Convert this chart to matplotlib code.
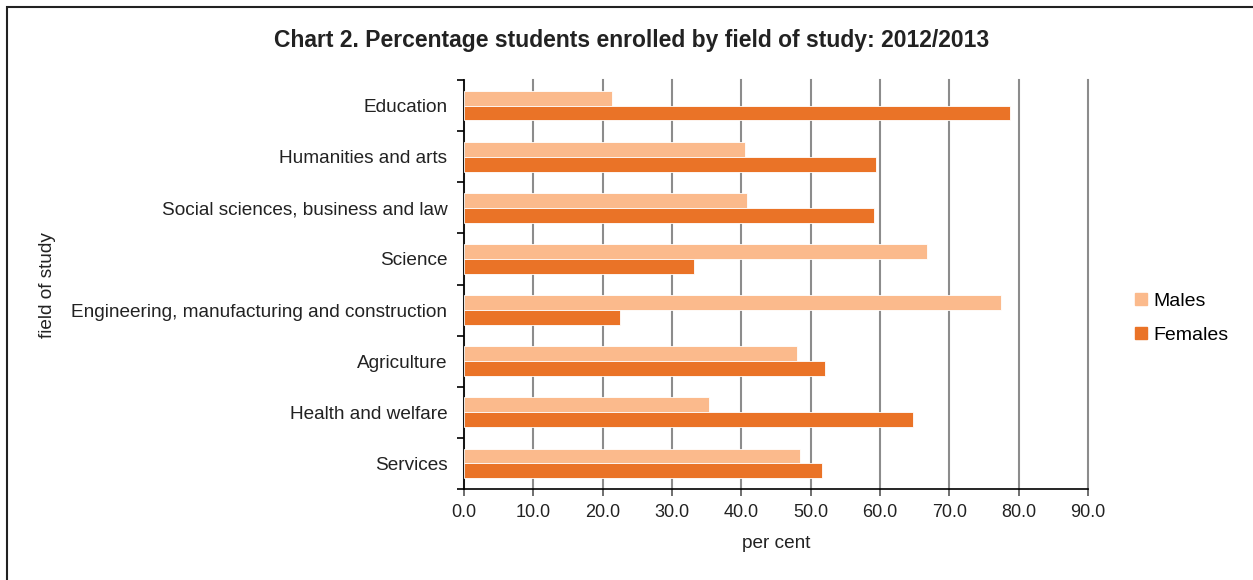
import matplotlib
matplotlib.use("Agg")
import matplotlib.pyplot as plt
from matplotlib.lines import Line2D
from matplotlib.patches import Rectangle
import numpy as np

plt.rcParams['font.family'] = ['Liberation Sans', 'DejaVu Sans']

fields = ["Education", "Humanities and arts", "Social sciences, business and law",
          "Science", "Engineering, manufacturing and construction", "Agriculture",
          "Health and welfare", "Services"]
males = [21.3, 40.6, 40.8, 66.8, 77.5, 48.0, 35.3, 48.4]
females = [78.7, 59.4, 59.2, 33.2, 22.5, 52.0, 64.7, 51.6]
xticks = [0, 10, 20, 30, 40, 50, 60, 70, 80, 90]

male_col = '#FBBA8C'
female_col = '#EA7327'
txt = '#222222'

fig = plt.figure(figsize=(12.53, 5.8), dpi=100)
ax = fig.add_axes([464 / 1253, 1 - 489 / 580, (1088 - 464) / 1253, (489 - 80) / 580])

y = np.arange(len(fields))
h = 0.29
ax.barh(y - h / 2, males, height=h, color=male_col, edgecolor='white', linewidth=0.6, zorder=3)
ax.barh(y + h / 2, females, height=h, color=female_col, edgecolor='white', linewidth=0.6, zorder=3)

ax.set_xlim(0, 90)
ax.set_ylim(len(fields) - 0.5, -0.5)
ax.set_xticks(xticks)
ax.set_xticklabels([f"{v:.1f}" for v in xticks], fontsize=13, color=txt)
ax.set_yticks(y)
ax.set_yticklabels(fields, fontsize=13.7, color=txt)
ax.set_yticks(np.arange(-0.5, len(fields)), minor=True)
ax.tick_params(axis='y', which='major', length=0, pad=12)
ax.tick_params(axis='y', which='minor', length=5, width=1.2, color='black')
ax.tick_params(axis='x', length=5, width=1.2, color='#555555', pad=6)

ax.grid(axis='x', color='#8c8c8c', linewidth=1.5, zorder=0)
for gl in ax.get_xgridlines():
    gl.set_clip_on(False)
for s in ['top', 'right']:
    ax.spines[s].set_visible(False)
ax.spines['left'].set_linewidth(1.2)
ax.spines['bottom'].set_linewidth(1.2)

ax.set_xlabel("per cent", fontsize=13.7, color=txt, labelpad=10)
fig.text(48 / 1253, 1 - 285 / 580, "field of study", rotation=90, fontsize=13.7,
         color=txt, ha='center', va='center')

fig.text(632 / 1253, 1 - 41 / 580, "Chart 2. Percentage students enrolled by field of study: 2012/2013",
         fontsize=16.5, fontweight='bold', color=txt, ha='center', va='center')

handles = [Line2D([], [], marker='s', linestyle='none', markersize=8, color=male_col),
           Line2D([], [], marker='s', linestyle='none', markersize=8, color=female_col)]
fig.legend(handles, ["Males", "Females"], loc='center left',
           bbox_to_anchor=(1131 / 1253, 1 - 318 / 580), frameon=False, fontsize=14,
           labelspacing=0.85, handletextpad=0.15, handlelength=1.0, borderpad=0, borderaxespad=0)

fig.patches.append(Rectangle((7 / 1253, -0.1), 1.2, 1.1 - 7 / 580, transform=fig.transFigure,
                             fill=False, edgecolor=txt, linewidth=1.5))

fig.savefig("out.png", dpi=100)
